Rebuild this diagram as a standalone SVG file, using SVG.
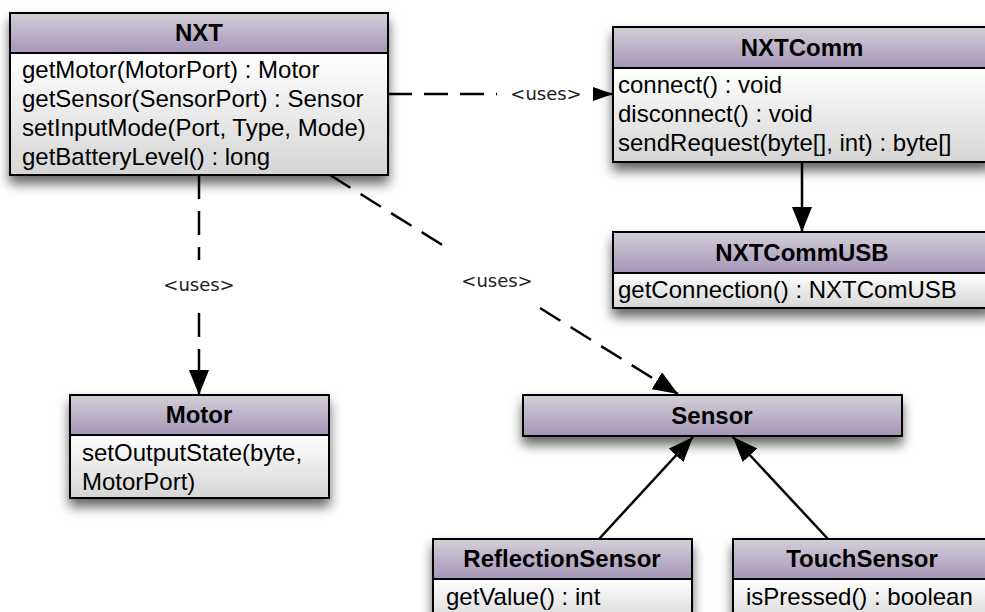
<svg xmlns="http://www.w3.org/2000/svg" width="985" height="612" viewBox="0 0 985 612">
<defs>
<linearGradient id="hdr" x1="0" y1="0" x2="0" y2="1"><stop offset="0" stop-color="#d3d0d7"/><stop offset="1" stop-color="#a595b8"/></linearGradient>
<linearGradient id="body" x1="0" y1="0" x2="0" y2="1"><stop offset="0" stop-color="#ffffff"/><stop offset="1" stop-color="#d5d5d5"/></linearGradient>
<filter id="sh" x="-10%" y="-10%" width="125%" height="170%"><feDropShadow dx="0" dy="8" stdDeviation="6" flood-color="#000" flood-opacity="0.6"/></filter>
<marker id="arr" markerUnits="userSpaceOnUse" markerWidth="25" markerHeight="20" refX="25" refY="10" orient="auto"><path d="M0,0 L25,10 L0,20 z" fill="#000"/></marker>
<marker id="arrs" markerUnits="userSpaceOnUse" markerWidth="20" markerHeight="14" refX="20" refY="7" orient="auto"><path d="M0,0 L20,7 L0,14 z" fill="#000"/></marker>
</defs>
<style>
.h{fill:url(#hdr);stroke:#000;stroke-width:2}
.b{fill:url(#body);stroke:#000;stroke-width:2}
.t{font-family:"Liberation Sans",Arial,sans-serif;font-size:24px;fill:#000}
.tb{font-family:"Liberation Sans",Arial,sans-serif;font-size:24px;font-weight:bold;fill:#000;text-anchor:middle}
.lbl{font-family:"DejaVu Sans",sans-serif;font-size:18px;fill:#222;text-anchor:middle}
.dash{fill:none;stroke:#000;stroke-width:2.5;stroke-dasharray:24 12}
.solid{fill:none;stroke:#000;stroke-width:2.5}
</style>

<g id="connectors">
<path class="dash" d="M388,94 L497,94"/>
<path class="solid" d="M595,94 L613,94" marker-end="url(#arrs)"/>
<text class="lbl" x="546" y="100">&lt;uses&gt;</text>
<path class="dash" d="M199,175 L199,260"/>
<path class="dash" d="M199,313 L199,395" marker-end="url(#arr)"/>
<text class="lbl" x="199" y="291">&lt;uses&gt;</text>
<path class="dash" d="M330,175 L452,251"/>
<path class="dash" d="M540,308 L678,394" marker-end="url(#arr)"/>
<text class="lbl" x="497" y="287">&lt;uses&gt;</text>
<path class="solid" d="M802,162 L802,232" marker-end="url(#arr)"/>
<path class="solid" d="M599,539 L693,437" marker-end="url(#arr)"/>
<path class="solid" d="M828,539 L733,437" marker-end="url(#arr)"/>
</g>

<g id="nxt">
<g filter="url(#sh)"><rect class="b" x="10" y="53" width="378" height="122"/><rect class="h" x="10" y="13" width="378" height="40"/></g>
<text class="tb" x="199" y="41">NXT</text>
<text class="t" x="22" y="78">getMotor(MotorPort) : Motor</text>
<text class="t" x="22" y="107">getSensor(SensorPort) : Sensor</text>
<text class="t" x="22" y="136">setInputMode(Port, Type, Mode)</text>
<text class="t" x="22" y="165">getBatteryLevel() : long</text>
</g>

<g id="nxtcomm">
<g filter="url(#sh)"><rect class="b" x="613" y="68" width="378" height="94"/><rect class="h" x="613" y="27" width="378" height="41"/></g>
<text class="tb" x="802" y="56">NXTComm</text>
<text class="t" x="618" y="93">connect() : void</text>
<text class="t" x="618" y="122">disconnect() : void</text>
<text class="t" x="618" y="151">sendRequest(byte[], int) : byte[]</text>
</g>

<g id="nxtcommusb">
<g filter="url(#sh)"><rect class="b" x="613" y="273" width="378" height="35"/><rect class="h" x="613" y="232" width="378" height="41"/></g>
<text class="tb" x="802" y="261">NXTCommUSB</text>
<text class="t" x="618" y="298">getConnection() : NXTComUSB</text>
</g>

<g id="motor">
<g filter="url(#sh)"><rect class="b" x="70" y="435" width="259" height="63"/><rect class="h" x="70" y="395" width="259" height="40"/></g>
<text class="tb" x="199" y="423">Motor</text>
<text class="t" x="82" y="461">setOutputState(byte,</text>
<text class="t" x="82" y="490">MotorPort)</text>
</g>

<g id="sensor">
<g filter="url(#sh)"><rect class="h" x="523" y="395" width="379" height="41"/></g>
<text class="tb" x="712" y="424">Sensor</text>
</g>

<g id="reflectionsensor">
<g filter="url(#sh)"><rect class="b" x="433" y="579" width="259" height="45"/><rect class="h" x="433" y="539" width="259" height="40"/></g>
<text class="tb" x="562" y="567">ReflectionSensor</text>
<text class="t" x="446" y="605">getValue() : int</text>
</g>

<g id="touchsensor">
<g filter="url(#sh)"><rect class="b" x="733" y="579" width="259" height="45"/><rect class="h" x="733" y="539" width="259" height="40"/></g>
<text class="tb" x="862" y="567">TouchSensor</text>
<text class="t" x="746" y="605">isPressed() : boolean</text>
</g>
</svg>
